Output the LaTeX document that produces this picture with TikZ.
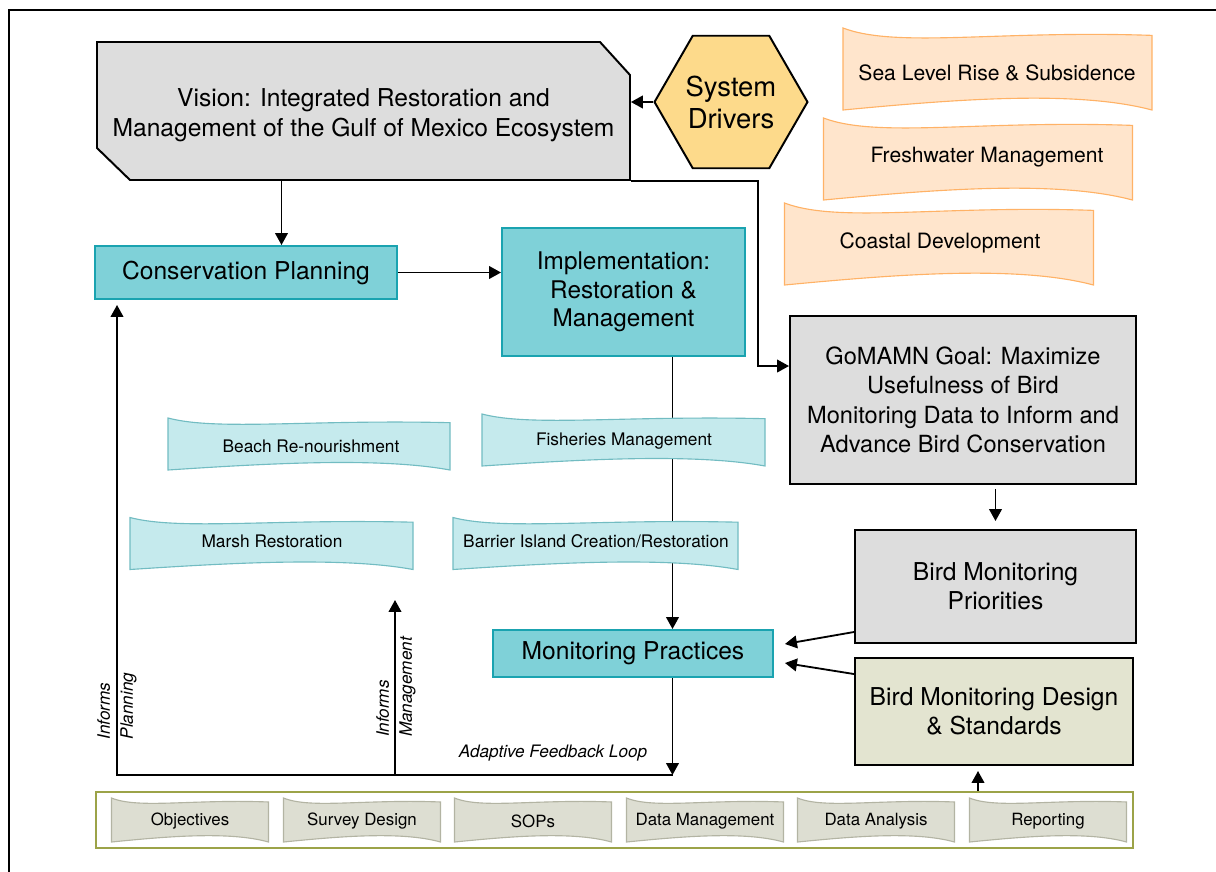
\documentclass[tikz,border=0pt]{standalone}
\usepackage{fontspec}
\setmainfont{TeX Gyre Heros}
\usetikzlibrary{arrows.meta, shapes.geometric, calc}

\definecolor{boxgrey}{HTML}{DDDDDD}
\definecolor{teal1}{HTML}{7FD1D8}
\definecolor{teal2}{HTML}{1AA3B0}
\definecolor{hexfill}{HTML}{FDDA8B}
\definecolor{olive1}{HTML}{E3E4D0}
\definecolor{olive2}{HTML}{9CA348}
\definecolor{stepfill}{HTML}{DDDED2}
\definecolor{stepdraw}{HTML}{B3B4A3}
\newcommand{\pw}{0.025cm}

% wavy ribbon: centre x, centre y, width, height, style
\newcommand{\ribbon}[5]{%
  \begin{scope}[shift={(#1,#2)}, xscale=#3/2, yscale=#4/2]
    \draw[#5] (-1,-1) .. controls (-0.65,-0.5) and (0,-0.95) .. (1,-0.82)
      -- (1,1) .. controls (0.5,0.5) and (-0.3,0.75) .. (-1,1) -- cycle;
  \end{scope}}

\begin{document}
\begin{tikzpicture}[x=0.025cm, y=-0.025cm, >={Triangle[length=8.5pt,width=9pt]},
    line width=1.3pt,
    bigbox/.style={
        % The shape:
        rectangle,
        % The border
        line width=1.4pt, draw=black,
        % The filling
        fill=boxgrey, align=center,
        font={\fontsize{17.5pt}{20.8pt}\selectfont}},
    tealbox/.style={bigbox, draw=teal2, fill=teal1},
    orangeribbon/.style={line width=0.8pt, draw=orange!60, fill=orange!20},
    blueribbon/.style={line width=0.8pt, draw=teal1!90!black, fill=teal1!45},
    greyribbon/.style={line width=0.8pt, draw=stepdraw, fill=stepfill},
    ribbontext/.style={font={\fontsize{12.3pt}{14pt}\selectfont}},
    sidetext/.style={font={\fontsize{12.2pt}{16.4pt}\selectfont\itshape}, align=left}]

    \useasboundingbox (0,0) rectangle (1216,871);
    \draw[line width=1.4pt] (9,875) -- (9,10) -- (1220,10);

    % vision
    \draw[line width=1.4pt, fill=boxgrey] (97,42) -- (600,42) -- (630,75) -- (630,180)
      -- (130,180) -- (97,148) -- cycle;
    \node[align=center, minimum width=533*\pw, minimum height=130*\pw,
      font={\fontsize{17.5pt}{21.3pt}\selectfont}] (vision) at (363.5,115)
      {Vision: Integrated Restoration and\\Management of the Gulf of Mexico Ecosystem};

    \node[regular polygon, regular polygon sides=6, minimum size=153*\pw, inner sep=0pt,
      draw, line width=1.4pt, fill=hexfill, align=center,
      font={\fontsize{19.5pt}{22.8pt}\selectfont}] (sd) at (731,102) {System\\Drivers};

    \foreach \x/\y/\tx/\ty/\n/\t in {997.5/69/997/73/sea/Sea Level Rise \& Subsidence,
        978/159/987/157/fresh/Freshwater Management, 939/244/940/243/coast/Coastal Development}{
      \ribbon{\x}{\y}{309}{82}{orangeribbon}
      \node[font={\fontsize{15pt}{17pt}\selectfont}] (\n) at (\tx,\ty) {\t};
    }

    \node[tealbox, minimum width=302*\pw, minimum height=53*\pw] (cp) at (246,272.5)
      {Conservation Planning};
    \node[tealbox, minimum width=243*\pw, minimum height=128*\pw,
      font={\fontsize{17.3pt}{20.3pt}\selectfont}] (impl) at (623.5,292)
      {Implementation:\\Restoration \&\\Management};
    \node[tealbox, minimum width=280*\pw, minimum height=47*\pw] (mp) at (633,653.5)
      {Monitoring Practices};
    \node[bigbox, minimum width=346*\pw, minimum height=168*\pw,
      font={\fontsize{16.8pt}{20.8pt}\selectfont}] (goal) at (963,400)
      {GoMAMN Goal: Maximize\\Usefulness of Bird\\Monitoring Data to Inform and\\Advance Bird Conservation};
    \node[bigbox, minimum width=281*\pw, minimum height=113*\pw] (prio) at (995.5,586.5)
      {Bird Monitoring\\Priorities};
    \node[bigbox, fill=olive1, minimum width=278*\pw, minimum height=107*\pw] (design) at (994,711.5)
      {Bird Monitoring Design\\\& Standards};
    \node[draw=olive2, line width=1.8pt, minimum width=1037*\pw, minimum height=56*\pw] (steps)
      at (614.5,820) {};

    % connectors
    \draw[->] (sd.west) -- (sd.west -| vision.east);
    \draw[->] ([xshift=-82*\pw]vision.south) -- ([xshift=-82*\pw]vision.south |- cp.north);
    \draw[->] (cp.east) -- (cp.east -| impl.west);
    \draw[->] (vision.south east) -- ++(127,0) |- ($(goal.north west)!0.3!(goal.south west)$);
    \draw[->] ([xshift=49*\pw]impl.south) -- ([xshift=49*\pw]impl.south |- mp.north);
    \coordinate (loop) at (672.5,775);
    \coordinate (mgmt) at (395,600);
    \draw[->] ([xshift=39.5*\pw]mp.south) -- (loop);
    \draw[->, shorten >=5*\pw] (loop) -| ([xshift=23*\pw]cp.south west);
    \draw[->] (mgmt |- loop) -- (mgmt);
    \draw[->, shorten <=4*\pw, shorten >=8*\pw] (goal.south -| prio.north) -- (prio.north);
    \draw[->] ([yshift=12*\pw]prio.south west) -- ([xshift=11*\pw, yshift=9.5*\pw]mp.east);
    \draw[->] ([yshift=-17*\pw]design.north west) -- ([xshift=11*\pw, yshift=-9.5*\pw]mp.east);
    \draw[->, shorten >=5*\pw] ([xshift=363.5*\pw]steps.north) -- ([xshift=363.5*\pw]steps.north |- design.south);

    \foreach \x/\y/\w/\tx/\ty/\n/\t in {309/444/282/311/446/beach/Beach Re-nourishment,
        623.5/440/283/624/441/fish/Fisheries Management,
        271.5/543.5/283/272/541/marsh/Marsh Restoration,
        595.5/543.5/285/596/541/barrier/{Barrier Island Creation/Restoration}}{
      \ribbon{\x}{\y}{\w}{52}{blueribbon}
      \node[ribbontext] (\n) at (\tx,\ty) {\t};
    }

    \foreach \x/\n/\t in {190/obj/Objectives, 362/survey/Survey Design, 533/sops/SOPs,
        705/datam/Data Management, 876/dataa/Data Analysis, 1048/rep/Reporting}{
      \ribbon{\x}{820}{157}{44}{greyribbon}
      \node[ribbontext, font={\fontsize{12pt}{14pt}\selectfont}] (\n) at (\x,821) {\t};
    }

    \node[sidetext] (afl) at (553,753) {Adaptive Feedback Loop};
    \node[sidetext, rotate=90] (ip) at (117,706) {Informs\\Planning};
    \node[sidetext, rotate=90] (im) at (396,687) {Informs\\Management};

\end{tikzpicture}
\end{document}
